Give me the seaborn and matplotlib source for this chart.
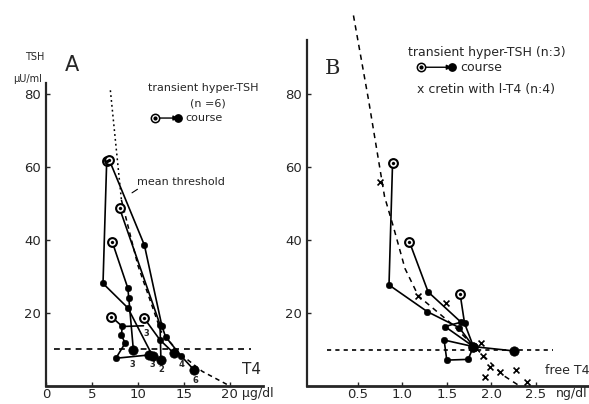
import pandas as pd
import numpy as np
import seaborn as sns
import matplotlib.pyplot as plt

# Panel A: T4 (ug/dl) vs TSH (uU/ml), transient hyper-TSH, 6 patients
a_patient = ["a1"]*4 + ["a2"]*6 + ["a3"]*3 + ["a4"]*4 + ["a5"]*6 + ["a6"]*3
a_t4 = [6.6, 6.2, 8.9, 11.6,
        6.9, 10.7, 12.6, 13.0, 14.7, 16.1,
        8.0, 12.4, 12.5,
        7.2, 8.9, 9.0, 9.5,
        7.1, 8.3, 8.2, 8.6, 7.6, 11.2,
        10.7, 12.4, 13.9]
a_tsh = [61.5, 28.1, 21.4, 8.2,
         61.8, 38.6, 16.5, 13.5, 8.2, 4.4,
         48.7, 16.8, 7.1,
         39.5, 26.8, 24.2, 9.9,
         19.0, 16.3, 14.0, 11.7, 7.6, 8.5,
         18.5, 12.6, 9.0]
# extra segment (horizontal) seen in panel A
a_seg_t4 = [8.3, 10.6]
a_seg_tsh = [16.3, 16.5]

# small numbers next to end points
a_num_t4 = [10.9, 9.4, 11.6, 12.5, 14.7, 16.3, 14.0]
a_num_tsh = [14.4, 6.0, 6.0, 4.4, 6.0, 1.6, 8.8]
a_num_txt = ["3", "3", "3", "2", "4", "6", "2"]

# mean threshold curve and cut-off line
thr_t4 = [7.0, 8.2, 10.0, 12.5, 14.5, 17.0, 20.0]
thr_tsh = [81, 51, 33, 15, 9, 4, 0]
a_cut_t4 = [0.9, 22.3]
a_cut_tsh = [10, 10]

# Panel B: free T4 (ng/dl) vs TSH, transient hyper-TSH (n=3)
b_patient = ["b1"]*9 + ["b2"]*5 + ["b3"]*4
b_ft4 = [0.89, 0.85, 1.28, 1.64, 1.80, 1.74, 1.50, 1.47, 1.80,
         1.08, 1.29, 1.66, 1.48, 1.80,
         1.65, 1.70, 1.80, 2.26]
b_tsh = [61.2, 27.7, 20.4, 16.0, 10.8, 7.3, 7.1, 12.6, 10.8,
         39.5, 25.8, 17.5, 16.3, 10.8,
         25.2, 17.2, 10.8, 9.6]

# cretins with L-T4 (n=4)
cret_ft4 = [0.75, 1.18, 1.49, 1.89, 1.91, 1.99, 2.10, 2.28, 1.93, 2.40]
cret_tsh = [56.0, 24.7, 22.7, 11.7, 8.2, 5.1, 3.9, 4.4, 2.4, 1.2]
cret_fit_ft4 = [0.45, 0.62, 0.80, 0.90, 1.03, 1.18, 1.57, 1.78, 2.00, 2.13, 2.32]
cret_fit_tsh = [101.6, 78.4, 51.9, 43.6, 32.2, 24.7, 16.7, 11.5, 6.2, 3.0, 0]
b_cut_ft4 = [0.15, 2.69]
b_cut_tsh = [10, 10]

dfa = pd.DataFrame({"patient": a_patient, "t4": a_t4, "tsh": a_tsh})
dfb = pd.DataFrame({"patient": b_patient, "t4": b_ft4, "tsh": b_tsh})

sns.set_style("ticks")
plt.rcParams["font.family"] = ["DejaVu Sans"]

W, H = 589, 404
fig = plt.figure(figsize=(W/100, H/100), dpi=100)
axA = fig.add_axes([46/W, 18/H, 217/W, 303/H])
axB = fig.add_axes([306.7/W, 18/H, 282.3/W, 372/H])


def draw_course(ax, df):
    sns.lineplot(data=df, x="t4", y="tsh", units="patient", estimator=None,
                 sort=False, color="black", lw=1.2, ax=ax, legend=False)
    first = df.groupby("patient").head(1)
    last = df.groupby("patient").tail(1)
    mid = df.drop(first.index).drop(last.index)
    sns.scatterplot(data=mid, x="t4", y="tsh", color="black", s=22,
                    edgecolor="black", ax=ax, legend=False, zorder=4)
    sns.scatterplot(data=last, x="t4", y="tsh", color="black", s=45,
                    edgecolor="black", ax=ax, legend=False, zorder=4)
    sns.scatterplot(data=first, x="t4", y="tsh", color="white", s=40,
                    edgecolor="black", linewidth=1.5, ax=ax, legend=False, zorder=5)
    sns.scatterplot(data=first, x="t4", y="tsh", color="black", s=5,
                    edgecolor="black", ax=ax, legend=False, zorder=6)


def course_key(ax, x0, x1, y):
    ax.annotate("", xy=(x1, y), xytext=(x0, y),
                arrowprops=dict(arrowstyle="-|>", color="black", lw=1,
                                shrinkA=3, shrinkB=0, mutation_scale=7))
    ax.scatter([x0], [y], s=36, facecolor="white", edgecolor="black", lw=1.1, zorder=5)
    ax.scatter([x0], [y], s=4, color="black", zorder=6)
    ax.scatter([x1], [y], s=28, color="black", zorder=5)


# ---- panel A
sns.lineplot(x=thr_t4[:2], y=thr_tsh[:2], color="black", lw=1.1, ax=axA,
             sort=False, linestyle=(0, (1.2, 2)))
sns.lineplot(x=thr_t4[1:], y=thr_tsh[1:], color="black", lw=1.1, ax=axA,
             sort=False, linestyle=(0, (3, 2.5)))
sns.lineplot(x=a_cut_t4, y=a_cut_tsh, color="black", lw=1.2, ax=axA,
             linestyle=(0, (3.5, 3)))
draw_course(axA, dfa)
sns.lineplot(x=a_seg_t4, y=a_seg_tsh, color="black", lw=1.2, ax=axA)
for x, y, t in zip(a_num_t4, a_num_tsh, a_num_txt):
    axA.text(x, y, t, fontsize=6, fontweight="bold", ha="center", va="center")

axA.set_xlim(0, 23.6)
axA.set_ylim(0, 83)
axA.set_xticks([0, 5, 10, 15, 20])
axA.set_yticks([20, 40, 60, 80])
axA.set_xlabel("")
axA.set_ylabel("")
axA.tick_params(direction="in", length=3, width=1, labelsize=9.5)
axA.tick_params(axis="x", pad=1.5)
for s in ["top", "right"]:
    axA.spines[s].set_visible(False)
axA.spines["left"].set_linewidth(1.6)
axA.spines["bottom"].set_linewidth(2)

axA.text(17.1, 81.6, "transient hyper-TSH", fontsize=8, ha="center", va="center")
axA.text(17.6, 77.5, "(n =6)", fontsize=8, ha="center", va="center")
course_key(axA, 11.9, 14.4, 73.4)
axA.text(15.2, 73.4, "course", fontsize=8, ha="left", va="center")
axA.text(9.95, 55.9, "mean threshold", fontsize=8, ha="left", va="center")
axA.annotate("", xy=(9.1, 52.5), xytext=(10.2, 54.3),
             arrowprops=dict(arrowstyle="-", color="black", lw=0.8))
axA.text(22.4, 2.4, "T4", fontsize=11, ha="center", va="bottom")

fig.text(72/W, 1 - 65/H, "A", fontsize=15, ha="center", va="center")
fig.text(35/W, 1 - 57/H, "TSH", fontsize=7, ha="center", va="center")
fig.text(28/W, 1 - 79/H, "µU/ml", fontsize=7, ha="center", va="center")
fig.text(258/W, 1 - 394/H, "µg/dl", fontsize=9, ha="center", va="center")

# ---- panel B
sns.lineplot(x=cret_fit_ft4, y=cret_fit_tsh, color="black", lw=1.1, ax=axB,
             sort=False, linestyle=(0, (3.5, 3)))
sns.lineplot(x=b_cut_ft4, y=b_cut_tsh, color="black", lw=1.2, ax=axB,
             linestyle=(0, (2.5, 2.5)))
draw_course(axB, dfb)
sns.scatterplot(x=cret_ft4, y=cret_tsh, marker="x", color="black", s=18,
                linewidth=1.2, ax=axB, legend=False, zorder=5)

axB.set_xlim(-0.076, 3.1)
axB.set_ylim(0, 102)
axB.set_xticks([0.5, 1.0, 1.5, 2.0, 2.5])
axB.set_xticklabels(["0.5", "1.0", "1.5", "2.0", "2.5"])
axB.set_yticks([20, 40, 60, 80])
axB.set_xlabel("")
axB.set_ylabel("")
axB.tick_params(direction="in", length=3, width=1, labelsize=9.5)
axB.tick_params(axis="x", pad=1.5)
for s in ["top", "right"]:
    axB.spines[s].set_visible(False)
axB.spines["left"].set_bounds(0, 95)
axB.spines["left"].set_linewidth(1.6)
axB.spines["bottom"].set_linewidth(2)

axB.text(1.06, 91.5, "transient hyper-TSH (n:3)", fontsize=9, ha="left", va="center")
course_key(axB, 1.21, 1.556, 87.4)
axB.text(1.65, 87.4, "course", fontsize=9, ha="left", va="center")
axB.text(1.16, 81.4, "x cretin with l-T4 (n:4)", fontsize=9, ha="left", va="center")
axB.text(2.61, 2.4, "free T4", fontsize=9, ha="left", va="bottom")

fig.text(333/W, 1 - 68/H, "B", fontsize=15, family="DejaVu Serif",
         ha="center", va="center")
fig.text(572/W, 1 - 394/H, "ng/dl", fontsize=9, ha="center", va="center")

fig.savefig("out.png", dpi=100)
